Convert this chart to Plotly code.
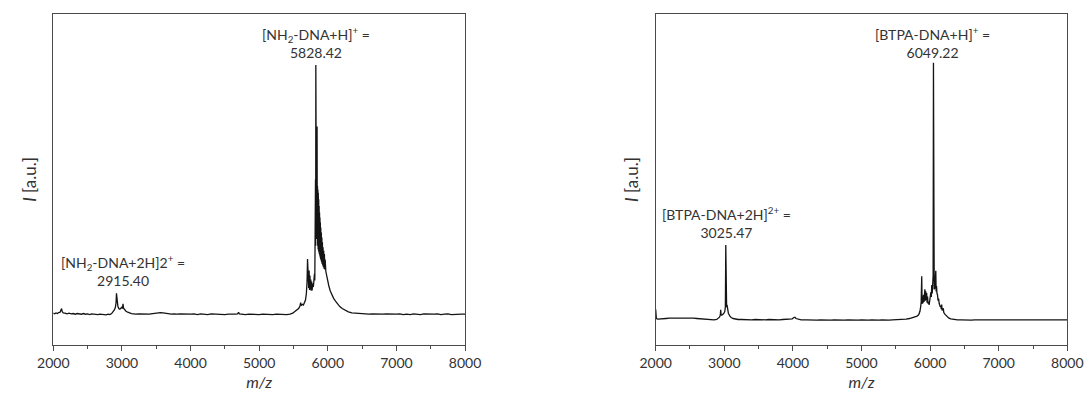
import plotly.graph_objects as go

# ---------------- data ----------------
tick_vals = [2000, 3000, 4000, 5000, 6000, 7000, 8000]
minor_vals = [2500, 3500, 4500, 5500, 6500, 7500]

left_mz = [2000, 2020, 2040, 2060, 2080, 2100, 2112, 2121, 2130, 2145, 2170, 2200, 2230, 2260, 2290,
           2320, 2350, 2380, 2410, 2440, 2470, 2500, 2530, 2560, 2590, 2620, 2650, 2680, 2710, 2740,
           2770, 2800, 2825, 2850, 2870, 2890, 2905, 2915, 2921, 2927, 2933, 2942, 2955, 2970, 2985,
           3000, 3008, 3016, 3024, 3040, 3060, 3085, 3110, 3140, 3170, 3200, 3250, 3300, 3350, 3400,
           3450, 3500, 3530, 3560, 3600, 3640, 3680, 3720, 3760, 3800, 3850, 3900, 3950, 4000, 4050,
           4100, 4150, 4200, 4250, 4300, 4350, 4400, 4450, 4500, 4550, 4600, 4650, 4685, 4700, 4712,
           4750, 4800, 4850, 4900, 4950, 5000, 5050, 5100, 5150, 5200, 5250, 5300, 5350, 5400, 5450,
           5490, 5520, 5550, 5575, 5595, 5605, 5615, 5630, 5645, 5660, 5675, 5688, 5698, 5705, 5710,
           5716, 5722, 5728, 5734, 5740, 5746, 5752, 5758, 5765, 5772, 5780, 5790, 5800, 5806, 5811,
           5815, 5818, 5821, 5824, 5826, 5829, 5832, 5835, 5838, 5841, 5844, 5847, 5850, 5853, 5856,
           5859, 5862, 5865, 5868, 5871, 5874, 5877, 5880, 5883, 5886, 5889, 5892, 5895, 5898, 5902,
           5906, 5910, 5914, 5918, 5922, 5926, 5931, 5936, 5941, 5946, 5951, 5956, 5962, 5972, 5985,
           6000, 6015, 6035, 6060, 6085, 6110, 6140, 6175, 6210, 6250, 6300, 6350, 6400, 6450, 6500,
           6550, 6600, 6650, 6700, 6750, 6800, 6850, 6900, 6950, 7000, 7050, 7100, 7150, 7200, 7250,
           7300, 7350, 7400, 7450, 7500, 7550, 7600, 7650, 7700, 7750, 7800, 7850, 7900, 7950, 8000]
left_int = [9.6, 9.4, 9.7, 9.5, 9.8, 9.9, 10.6, 11.0, 10.1, 9.7, 9.6, 9.4, 9.6, 9.4, 9.5,
            9.3, 9.5, 9.4, 9.3, 9.5, 9.3, 9.4, 9.2, 9.4, 9.3, 9.4, 9.2, 9.3, 9.2, 9.3,
            9.1, 9.3, 9.2, 9.5, 10.0, 10.6, 11.4, 12.8, 15.6, 13.4, 12.2, 11.6, 11.0, 10.8, 11.1,
            11.5, 11.0, 12.4, 11.1, 10.6, 10.2, 9.9, 9.6, 9.5, 9.4, 9.3, 9.4, 9.3, 9.4, 9.3,
            9.5, 9.7, 9.6, 9.8, 9.7, 9.5, 9.4, 9.3, 9.4, 9.3, 9.4, 9.3, 9.4, 9.3, 9.4,
            9.2, 9.4, 9.3, 9.2, 9.4, 9.3, 9.2, 9.3, 9.2, 9.3, 9.2, 9.3, 9.4, 9.9, 9.4,
            9.3, 9.2, 9.3, 9.2, 9.3, 9.2, 9.3, 9.2, 9.3, 9.2, 9.3, 9.2, 9.3, 9.2, 9.3,
            9.6, 10.1, 10.6, 11.0, 11.8, 12.8, 11.9, 12.3, 12.1, 12.9, 13.6, 15.5, 19.0, 26.0, 19.5,
            24.8, 17.2, 22.5, 16.6, 21.0, 16.8, 19.8, 16.4, 19.2, 16.5, 18.6, 17.5, 19.0, 21.5, 19.5,
            30.0, 24.0, 50.0, 30.0, 84.6, 34.0, 45.0, 32.0, 58.0, 34.0, 66.0, 33.0, 48.0, 30.0, 47.0,
            29.0, 46.0, 28.5, 44.0, 28.0, 42.0, 27.5, 40.0, 27.0, 38.5, 26.5, 37.0, 26.0, 35.5, 25.5,
            34.0, 25.0, 32.5, 24.5, 31.0, 24.0, 29.5, 23.5, 28.5, 23.0, 27.5, 22.8, 25.8, 22.2, 20.6,
            19.2, 17.9, 16.4, 15.0, 14.1, 13.3, 12.4, 11.6, 11.0, 10.5, 10.0, 9.7, 9.6, 9.5, 9.4,
            9.5, 9.3, 9.4, 9.3, 9.4, 9.3, 9.4, 9.3, 9.4, 9.3, 9.4, 9.2, 9.3, 9.2, 9.4,
            9.3, 9.2, 9.4, 9.3, 9.2, 9.3, 9.4, 9.2, 9.3, 9.4, 9.2, 9.3, 9.4, 9.3, 9.3]

right_mz = [2000, 2004, 2010, 2030, 2060, 2100, 2150, 2200, 2250, 2300, 2350, 2400, 2450, 2500, 2550,
            2600, 2650, 2700, 2750, 2800, 2850, 2890, 2915, 2930, 2942, 2948, 2954, 2965, 2980, 2995,
            3008, 3016, 3022, 3027, 3034, 3040, 3048, 3060, 3080, 3100, 3130, 3170, 3200, 3250, 3300,
            3350, 3400, 3450, 3500, 3550, 3600, 3650, 3700, 3750, 3800, 3850, 3900, 3950, 3990, 4015,
            4030, 4045, 4080, 4120, 4200, 4250, 4300, 4350, 4400, 4450, 4500, 4550, 4600, 4650, 4700,
            4750, 4800, 4850, 4900, 4950, 5000, 5050, 5100, 5150, 5200, 5250, 5300, 5350, 5400, 5450,
            5500, 5550, 5600, 5650, 5700, 5740, 5780, 5810, 5835, 5852, 5863, 5870, 5878, 5883, 5890,
            5897, 5904, 5911, 5918, 5924, 5930, 5937, 5944, 5950, 5956, 5963, 5970, 5978, 5986, 5995,
            6004, 6012, 6018, 6024, 6031, 6038, 6044, 6049, 6054, 6060, 6066, 6072, 6078, 6083, 6088,
            6094, 6100, 6108, 6116, 6124, 6132, 6140, 6148, 6156, 6163, 6169, 6175, 6184, 6192, 6200,
            6215, 6230, 6245, 6270, 6300, 6340, 6400, 6450, 6500, 6550, 6600, 6650, 6700, 6750, 6800,
            6850, 6900, 6950, 7000, 7050, 7100, 7150, 7200, 7250, 7300, 7350, 7400, 7450, 7500, 7550,
            7600, 7650, 7700, 7750, 7800, 7850, 7900, 7950, 8000]
right_int = [10.8, 9.0, 8.0, 7.8, 7.9, 7.9, 8.0, 8.1, 8.1, 8.2, 8.2, 8.3, 8.2, 8.2, 8.1,
             8.0, 7.9, 7.8, 7.7, 7.7, 7.6, 7.7, 8.0, 8.4, 9.0, 10.6, 9.0, 9.0, 9.3, 9.6,
             10.2, 11.5, 30.2, 12.5, 11.4, 12.1, 10.6, 9.6, 8.8, 8.3, 8.0, 7.8, 7.7, 7.7, 7.6,
             7.7, 7.6, 7.7, 7.6, 7.7, 7.6, 7.7, 7.6, 7.7, 7.6, 7.7, 7.7, 7.8, 7.9, 8.3,
             8.4, 8.0, 7.7, 7.6, 7.6, 7.5, 7.6, 7.5, 7.6, 7.5, 7.6, 7.5, 7.6, 7.5, 7.6,
             7.5, 7.6, 7.5, 7.6, 7.5, 7.6, 7.5, 7.5, 7.6, 7.5, 7.5, 7.6, 7.5, 7.5, 7.6,
             7.6, 7.6, 7.6, 7.8, 8.0, 8.2, 8.4, 8.7, 9.2, 10.2, 11.6, 13.0, 20.8, 12.4, 14.6,
             12.6, 15.2, 13.0, 16.0, 16.8, 13.4, 16.2, 13.6, 15.7, 12.8, 14.6, 12.5, 13.0, 12.1, 13.4,
             14.2, 16.0, 14.5, 18.1, 15.6, 17.5, 21.0, 85.3, 19.5, 16.8, 19.0, 17.0, 20.5, 22.4, 16.2,
             17.8, 15.6, 15.2, 13.4, 14.0, 12.6, 12.2, 11.5, 11.9, 10.8, 12.2, 10.4, 10.8, 11.1, 9.8,
             9.3, 8.9, 8.6, 8.2, 7.9, 7.7, 7.6, 7.6, 7.5, 7.6, 7.5, 7.6, 7.6, 7.5, 7.6,
             7.5, 7.6, 7.6, 7.5, 7.6, 7.5, 7.6, 7.6, 7.5, 7.6, 7.6, 7.5, 7.6, 7.5, 7.6,
             7.6, 7.5, 7.6, 7.6, 7.5, 7.6, 7.6, 7.5, 7.6]

# peak labels: (text, x, y)
left_labels = [("[NH<sub>2</sub>-DNA+H]<sup>+</sup> =<br>5828.42", 5828, 91.4),
               ("[NH<sub>2</sub>-DNA+2H]2<sup>+</sup> =<br>2915.40", 3020, 22.5)]
right_labels = [("[BTPA-DNA+H]<sup>+</sup> =<br>6049.22", 6040, 91.4),
                ("[BTPA-DNA+2H]<sup>2+</sup> =<br>3025.47", 3030, 37.1)]

FONT = "Lato"
LINE = "#141414"
FRAME = "#4a4a4a"
TEXT = "#333333"

fig = go.Figure()
fig.add_trace(go.Scatter(x=left_mz, y=left_int, mode="lines",
                         line=dict(color=LINE, width=1.3), xaxis="x", yaxis="y",
                         showlegend=False, hoverinfo="skip"))
fig.add_trace(go.Scatter(x=right_mz, y=right_int, mode="lines",
                         line=dict(color=LINE, width=1.3), xaxis="x2", yaxis="y2",
                         showlegend=False, hoverinfo="skip"))


def xax(domain, anchor):
    return dict(domain=domain, anchor=anchor, range=[2000, 8000], tickmode="array",
                tickvals=tick_vals, ticktext=[str(v) for v in tick_vals],
                ticks="outside", ticklen=5, tickwidth=1, tickcolor=FRAME,
                minor=dict(tickmode="array", tickvals=minor_vals, ticks="outside",
                           ticklen=3, tickwidth=1, tickcolor=FRAME),
                showline=True, linecolor=FRAME, linewidth=1.3, mirror=True,
                showgrid=False, zeroline=False, automargin=False,
                tickfont=dict(family=FONT, size=14, color=TEXT),
                title=dict(text="<i>m/z</i>", font=dict(family=FONT, size=16, color=TEXT),
                           standoff=6))


def yax(anchor):
    return dict(domain=[0.1332, 0.9648], anchor=anchor, range=[0, 100],
                showticklabels=False, ticks="", showline=True, linecolor=FRAME,
                linewidth=1.3, mirror=True, showgrid=False, zeroline=False, automargin=False,
                title=dict(text="<i>I</i> [a.u.]", font=dict(family=FONT, size=17, color=TEXT),
                           standoff=11))


annotations = []
for text, x, y in left_labels:
    annotations.append(dict(text=text, x=x, y=y, xref="x", yref="y", showarrow=False,
                            xanchor="center", yanchor="middle",
                            font=dict(family=FONT, size=14, color=TEXT)))
for text, x, y in right_labels:
    annotations.append(dict(text=text, x=x, y=y, xref="x2", yref="y2", showarrow=False,
                            xanchor="center", yanchor="middle",
                            font=dict(family=FONT, size=14, color=TEXT)))

fig.update_layout(
    width=1085, height=398,
    margin=dict(l=0, r=0, t=0, b=0, autoexpand=False),
    paper_bgcolor="white", plot_bgcolor="white",
    xaxis=xax([0.0491, 0.4286], "y"),
    yaxis=yax("x"),
    xaxis2=xax([0.6043, 0.9837], "y2"),
    yaxis2=yax("x2"),
    annotations=annotations,
    font=dict(family=FONT),
)

fig.write_html("out.html")
